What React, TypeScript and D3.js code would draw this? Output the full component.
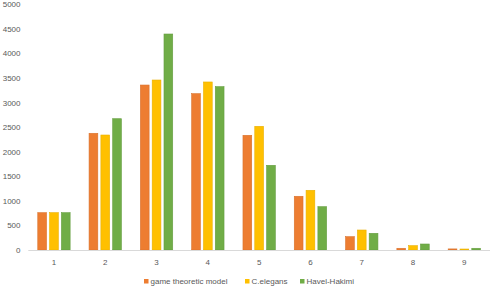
import React from "react";
import * as d3 from "d3";

const categories = ["1", "2", "3", "4", "5", "6", "7", "8", "9"];
const seriesNames = ["game theoretic model", "C.elegans", "Havel-Hakimi"];
const gameTheoretic = [760, 2377, 3360, 3184, 2336, 1094, 271, 35, 22];
const cElegans = [760, 2342, 3462, 3422, 2519, 1216, 407, 88, 20];
const havelHakimi = [760, 2674, 4399, 3327, 1725, 882, 340, 122, 35];
const yTicks = [0, 500, 1000, 1500, 2000, 2500, 3000, 3500, 4000, 4500, 5000];
const colors = ["#ED7D31", "#FFC000", "#70AD47"];

export default function App() {
  const W = 492, H = 287;
  const series = [gameTheoretic, cElegans, havelHakimi];
  const x = d3.scaleBand<string>().domain(categories).range([28.3, 490]).paddingInner(0).paddingOuter(0);
  const groupW = 38.5;
  const inner = d3.scaleBand<number>().domain([0, 1, 2]).range([0, groupW]).padding(0.26);
  const y = d3.scaleLinear().domain([0, 5000]).range([250, 4.5]);
  const groupOffset = (x.bandwidth() - groupW) / 2;
  const font = "'Liberation Sans', Arial, sans-serif";
  const legendX = [144, 245, 300];
  return (
    <svg width={W} height={H} style={{ position: "absolute", left: 0, top: 0 }}>
      <rect width={W} height={H} fill="#fff" />
      {yTicks.map((t) => (
        <text key={t} x={20.5} y={y(t)} dy="0.35em" textAnchor="end" fontSize={8} fill="#595959" fontFamily={font}>
          {t}
        </text>
      ))}
      {categories.map((c, i) =>
        series.map((s, k) => (
          <rect
            key={c + k}
            x={(x(c) as number) + groupOffset + (inner(k) as number)}
            y={y(s[i])}
            width={inner.bandwidth()}
            height={y(0) - y(s[i])}
            fill={colors[k]}
            stroke={d3.color(colors[k])!.darker(0.25).toString()}
            strokeWidth={0.6}
          />
        ))
      )}
      <line x1={28.3} x2={490} y1={y(0) + 0.5} y2={y(0) + 0.5} stroke="#D9D9D9" strokeWidth={1} />
      {categories.map((c) => (
        <text key={c} x={(x(c) as number) + x.bandwidth() / 2} y={262} dy="0.35em" textAnchor="middle" fontSize={8} fill="#595959" fontFamily={font}>
          {c}
        </text>
      ))}
      {seriesNames.map((n, k) => (
        <g key={n}>
          <rect x={legendX[k]} y={279} width={4.5} height={4.5} fill={colors[k]} />
          <text x={legendX[k] + 6.5} y={281.5} dy="0.35em" fontSize={8} fill="#595959" fontFamily={font}>
            {n}
          </text>
        </g>
      ))}
    </svg>
  );
}
